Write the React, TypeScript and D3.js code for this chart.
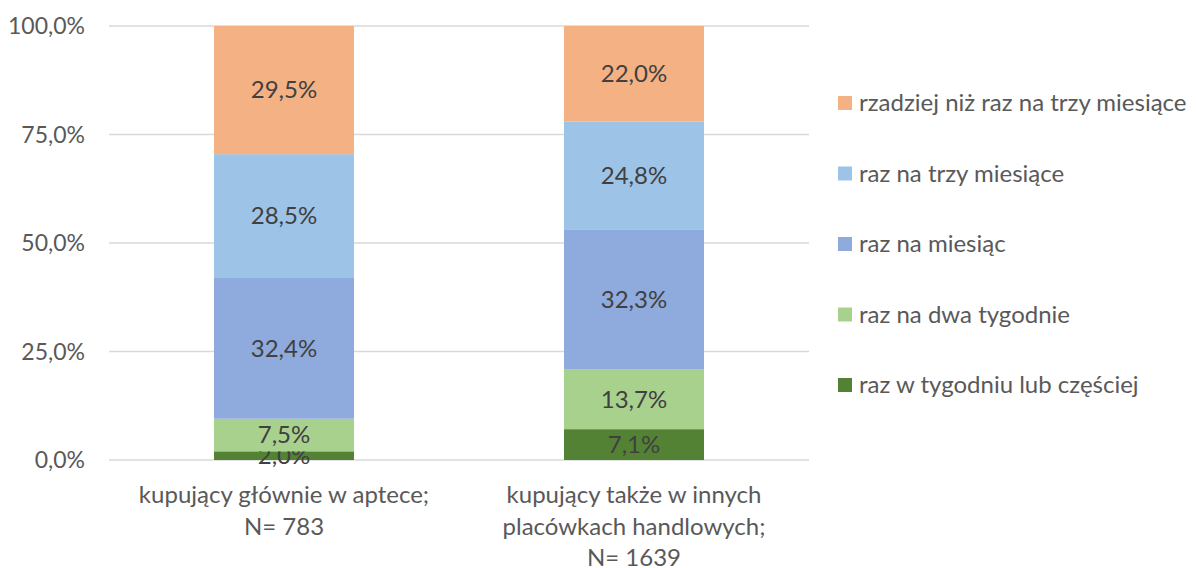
import React, { useEffect, useRef } from 'react';
import * as d3 from 'd3';

const categories = [
  ['kupujący głównie w aptece;', 'N= 783'],
  ['kupujący także w innych', 'placówkach handlowych;', 'N= 1639'],
];
const seriesNames = [
  'raz w tygodniu lub częściej',
  'raz na dwa tygodnie',
  'raz na miesiąc',
  'raz na trzy miesiące',
  'rzadziej niż raz na trzy miesiące',
];
const colors = ['#548235', '#a9d18e', '#8faadc', '#9dc3e6', '#f4b183'];
// one array per category, same order as seriesNames
const apteka = [2.0, 7.5, 32.4, 28.5, 29.5];
const inne = [7.1, 13.7, 32.3, 24.8, 22.0];
const yTicks = [0, 0.25, 0.5, 0.75, 1];

const App = () => {
  const svgRef = useRef<SVGSVGElement>(null);

  useEffect(() => {
    const svg = d3.select(svgRef.current);
    svg.selectAll('*').remove();
    const font = 'Lato, "Open Sans", sans-serif';

    const x = d3.scaleBand<number>()
      .domain([0, 1])
      .range([109, 809])
      .paddingInner(0.6)
      .paddingOuter(0.3);
    const y = d3.scaleLinear().domain([0, 1]).range([460, 26]);

    const rows = [apteka, inne].map((vals, i) => {
      const r: any = { idx: i };
      vals.forEach((v, j) => (r[j] = v));
      return r;
    });
    const stack = d3.stack<any>()
      .keys(seriesNames.map((_, j) => String(j)))
      .offset(d3.stackOffsetExpand);
    const layers = stack(rows);

    // gridlines
    svg.append('g').selectAll('line')
      .data(yTicks)
      .enter().append('line')
      .attr('x1', 109).attr('x2', 809)
      .attr('y1', (d) => y(d)).attr('y2', (d) => y(d))
      .attr('stroke', '#d9d9d9').attr('stroke-width', 1.3);

    svg.append('g').selectAll('text')
      .data(yTicks)
      .enter().append('text')
      .attr('x', 85).attr('y', (d) => y(d))
      .attr('dy', '0.35em')
      .attr('text-anchor', 'end')
      .attr('font-family', font).attr('font-size', 23)
      .attr('fill', '#595959')
      .text((d) => d3.format('.1f')(d * 100).replace('.', ',') + '%');

    // bars
    layers.forEach((layer, j) => {
      const g = svg.append('g');
      g.selectAll('rect')
        .data(layer)
        .enter().append('rect')
        .attr('x', (d: any) => x(d.data.idx)!)
        .attr('width', x.bandwidth())
        .attr('y', (d) => y(d[1]))
        .attr('height', (d) => y(d[0]) - y(d[1]))
        .attr('fill', colors[j]);
      g.selectAll('text')
        .data(layer)
        .enter().append('text')
        .attr('x', (d: any) => x(d.data.idx)! + x.bandwidth() / 2)
        .attr('y', (d) => (y(d[0]) + y(d[1])) / 2)
        .attr('dy', '0.35em')
        .attr('text-anchor', 'middle')
        .attr('font-family', font).attr('font-size', 24)
        .attr('fill', '#404040')
        .text((d: any) => d3.format('.1f')(d.data[j]).replace('.', ',') + '%');
    });

    // category labels
    categories.forEach((lines, i) => {
      const t = svg.append('text')
        .attr('text-anchor', 'middle')
        .attr('font-family', font).attr('font-size', 24)
        .attr('fill', '#595959');
      lines.forEach((ln, k) => {
        t.append('tspan')
          .attr('x', x(i)! + x.bandwidth() / 2)
          .attr('y', 495 + k * 31.5)
          .attr('dy', '0.35em')
          .text(ln);
      });
    });

    // legend, top item is last series
    const legend = svg.append('g');
    const order = seriesNames.map((_, j) => j).reverse();
    order.forEach((j, k) => {
      const ly = 103 + k * 70.5;
      legend.append('rect')
        .attr('x', 838).attr('y', ly - 7)
        .attr('width', 14).attr('height', 14)
        .attr('fill', colors[j]);
      legend.append('text')
        .attr('x', 859).attr('y', ly)
        .attr('dy', '0.35em')
        .attr('font-family', font).attr('font-size', 24)
        .attr('fill', '#595959')
        .text(seriesNames[j]);
    });
  }, []);

  return (
    <svg ref={svgRef} width={1197} height={568} style={{ position: 'absolute', left: 0, top: 0 }}></svg>
  );
};

export default App;
